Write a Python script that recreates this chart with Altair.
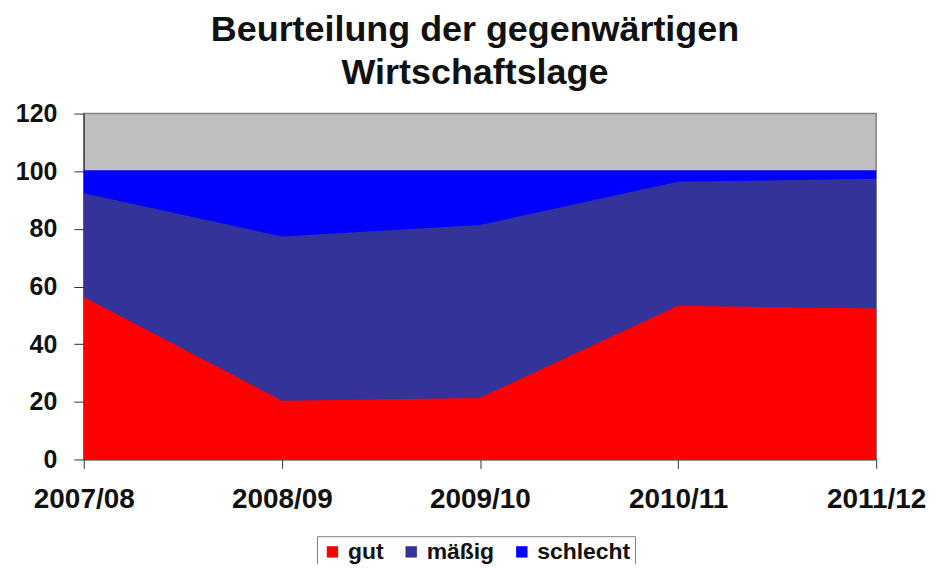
import altair as alt
import pandas as pd

years = ["2007/08", "2008/09", "2009/10", "2010/11", "2011/12"]
gut = [56, 20, 21, 53, 52]
maessig = [36, 57, 60, 43, 45]
schlecht = [8, 23, 19, 4, 3]
series = ["gut", "mäßig", "schlecht"]
colors = ["#FF0000", "#333399", "#0000FF"]

rows = []
for i, y in enumerate(years):
    rows.append({"Jahr": y, "Serie": "gut", "Wert": gut[i], "o": 0})
    rows.append({"Jahr": y, "Serie": "mäßig", "Wert": maessig[i], "o": 1})
    rows.append({"Jahr": y, "Serie": "schlecht", "Wert": schlecht[i], "o": 2})
df = pd.DataFrame(rows)

FONT = "Liberation Sans"

chart = alt.Chart(df).mark_area(
    line=alt.OverlayMarkDef(color="#14143a", strokeWidth=2), opacity=1
).encode(
    x=alt.X("Jahr:O", sort=years, scale=alt.Scale(type="point", padding=0),
            axis=alt.Axis(title=None, labelAngle=0, labelFontSize=28, labelFontWeight="bold",
                          labelFont=FONT, labelColor="#111111", tickSize=9, labelPadding=17,
                          domainColor="#333333", tickColor="#333333", labelOverlap=False)),
    y=alt.Y("Wert:Q", stack="zero", scale=alt.Scale(domain=[0, 120], nice=False),
            axis=alt.Axis(title=None, values=[0, 20, 40, 60, 80, 100, 120], grid=False,
                          labelFontSize=25, labelFontWeight="bold", labelFont=FONT,
                          labelColor="#111111", tickSize=10, labelPadding=17,
                          domainColor="#333333", tickColor="#333333")),
    color=alt.Color("Serie:N", scale=alt.Scale(domain=series, range=colors),
                    legend=alt.Legend(title=None, orient="none", legendX=234, legendY=424,
                                      direction="horizontal", columns=3, symbolType="square",
                                      symbolSize=130, symbolStrokeWidth=0,
                                      labelFontSize=23, labelFontWeight="bold", labelFont=FONT,
                                      labelColor="#111111", strokeColor="#808080",
                                      fillColor="white", padding=4, columnPadding=16,
                                      symbolOffset=0, labelOffset=4)),
    order=alt.Order("o:Q", sort="ascending"),
).properties(
    width=795, height=347,
    title=alt.TitleParams(["Beurteilung der gegenwärtigen", "Wirtschaftslage"],
                          fontSize=36, font=FONT, fontWeight="bold", color="#111111",
                          anchor="middle", lineHeight=43, offset=10, dx=-5),
    autosize=alt.AutoSizeParams(type="none"),
    padding={"left": 76, "top": 105, "right": 52, "bottom": 104},
).configure_view(fill="#C0C0C0", stroke="#808080", strokeWidth=1.5)

chart.save("out.html", embed_options={"renderer": "svg", "actions": False})
